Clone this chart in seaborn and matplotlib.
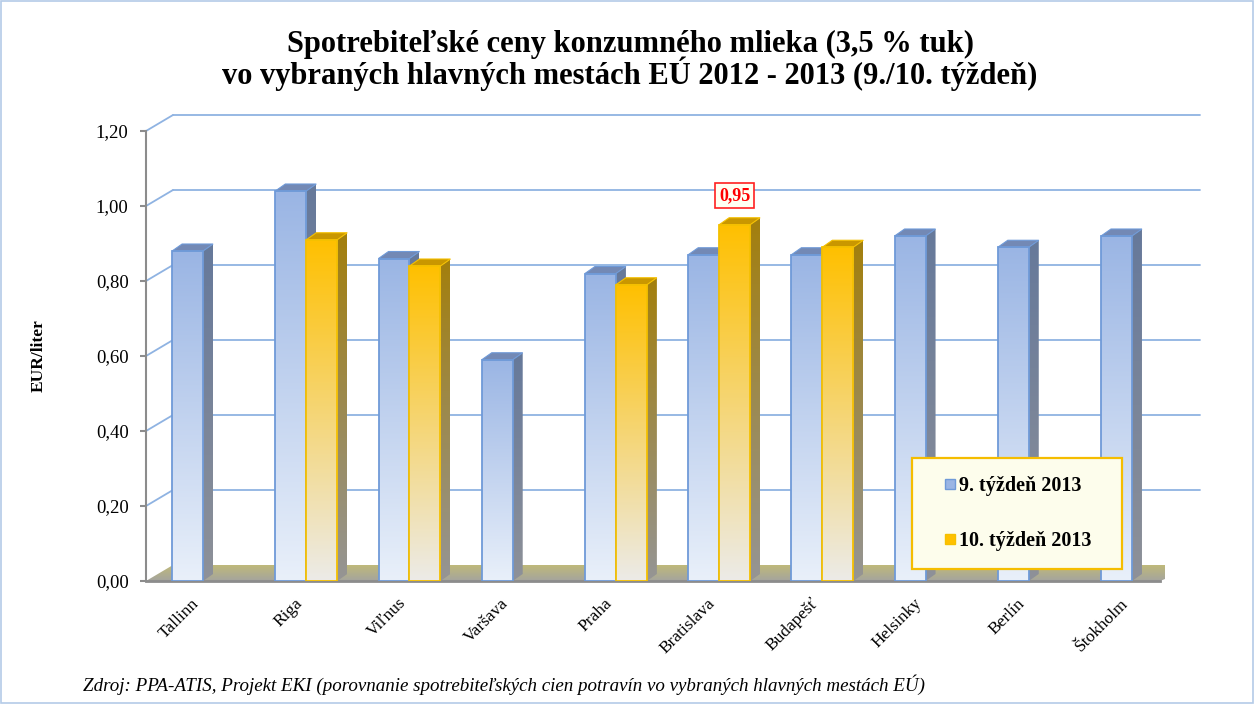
"""Spotrebiteľské ceny konzumného mlieka — pseudo-3D zoskupený stĺpcový graf."""
import matplotlib
matplotlib.use("Agg")
import matplotlib.pyplot as plt
import matplotlib.transforms as mtrans
import numpy as np
import pandas as pd
import seaborn as sns
from matplotlib.colors import LinearSegmentedColormap
from matplotlib.lines import Line2D
from matplotlib.patches import Polygon, Rectangle
from matplotlib.ticker import FuncFormatter

CITIES = ["Tallinn", "Riga", "Viľnus", "Varšava", "Praha", "Bratislava",
          "Budapešť", "Helsinky", "Berlín", "Štokholm"]
WEEKS = ["9. týždeň 2013", "10. týždeň 2013"]
WEEK9 = [0.88, 1.04, 0.86, 0.59, 0.82, 0.87, 0.87, 0.92, 0.89, 0.92]
WEEK10 = [None, 0.91, 0.84, None, 0.79, 0.95, 0.89, None, None, None]
HIGHLIGHT = ("Bratislava", WEEKS[1])
YTICKS = [0.0, 0.2, 0.4, 0.6, 0.8, 1.0, 1.2]

TITLE_1 = "Spotrebiteľské ceny konzumného mlieka (3,5 % tuk)"
TITLE_2 = "vo vybraných hlavných mestách EÚ 2012 - 2013 (9./10. týždeň)"
SOURCE = ("Zdroj: PPA-ATIS, Projekt EKI (porovnanie spotrebiteľských cien "
          "potravín vo vybraných hlavných mestách EÚ)")
YLABEL = "EUR/liter"

# colours: (front bottom, front top), (side bottom, side top), top face, edge
STYLE = {
    WEEKS[0]: dict(front=("#e9f0fa", "#9ab5e4"), side=("#8e9198", "#66799b"),
                   top="#7389b5", edge="#6f9ad8"),
    WEEKS[1]: dict(front=("#ecebe8", "#ffc000"), side=("#959595", "#a37f0c"),
                   top="#c99700", edge="#f5c000"),
}
GRID = "#8fb3e2"
AXIS = "#8c8c8c"
SERIF = ["Liberation Serif", "DejaVu Serif"]

W, H, DPI = 1256, 704, 100
XLIM = (-0.553, 9.32)
YLIM = (0.0, 1.2)
SIDE_PX, RISE_PX = 10, 7          # bar depth
BACK_PX, BACK_UP_PX = 27, 16      # back wall offset

sns.set_theme(style="white")
plt.rcParams["font.family"] = SERIF
plt.rcParams["text.color"] = "black"
plt.rcParams["axes.labelcolor"] = "black"

rows = []
for city, a, b in zip(CITIES, WEEK9, WEEK10):
    rows.append((city, WEEKS[0], a))
    if b is not None:
        rows.append((city, WEEKS[1], b))
df = pd.DataFrame(rows, columns=["mesto", "tyzden", "cena"])

fig = plt.figure(figsize=(W / DPI, H / DPI), dpi=DPI)
ax = fig.add_axes([146 / W, 1 - 581 / H, (1165 - 146) / W, 450 / H])
ax.set_facecolor("none")

sns.barplot(data=df, x="mesto", y="cena", hue="tyzden", order=CITIES,
            hue_order=WEEKS, width=0.6, errorbar=None, legend=False,
            palette=[STYLE[w]["front"][1] for w in WEEKS], ax=ax)
ax.set_xlim(*XLIM)
ax.set_ylim(*YLIM)

bb = ax.get_position()
pxx = bb.width * W / (XLIM[1] - XLIM[0])
pxy = bb.height * H / (YLIM[1] - YLIM[0])
def dx(p): return p / pxx
def dy(p): return p / pxy

grad = np.linspace(0, 1, 256).reshape(-1, 1)

def cmap(pair):
    return LinearSegmentedColormap.from_list("g", list(pair))

# floor
fx0, fx1 = XLIM[0], XLIM[0] + dx(1160 - 146)
floor = Polygon([(fx0, 0), (fx1, 0), (fx1 + dx(40), dy(BACK_UP_PX)),
                 (fx0 + dx(BACK_PX), dy(BACK_UP_PX))], closed=True,
                facecolor="none", edgecolor="none", zorder=1)
ax.add_patch(floor)
im = ax.imshow(grad, extent=[fx0, fx1 + dx(40), 0, dy(BACK_UP_PX)],
               origin="lower", aspect="auto", zorder=1,
               cmap=cmap(("#a4a49e", "#bfb97a")))
im.set_clip_path(floor)

# back-wall gridlines with perspective connectors
for v in YTICKS[1:]:
    yb = v + dy(BACK_UP_PX)
    ax.plot([XLIM[0] + dx(BACK_PX), XLIM[0] + dx(1200 - 146)], [yb, yb],
            color=GRID, lw=1.3, zorder=0.5, clip_on=False)
    ax.plot([XLIM[0], XLIM[0] + dx(BACK_PX)], [v, yb],
            color=GRID, lw=1.3, zorder=0.5, clip_on=False)

# pseudo-3D bars
for i, (week, cont) in enumerate(zip(WEEKS, ax.containers)):
    st = STYLE[week]
    z = 3 + i
    for bar in cont:
        x0, w, h = bar.get_x(), bar.get_width(), bar.get_height()
        x1 = x0 + w
        bar.set_facecolor("none")
        bar.set_edgecolor(st["edge"])
        bar.set_linewidth(1.3)
        bar.set_zorder(z + 0.2)
        front = ax.imshow(grad, extent=[x0, x1, 0, h], origin="lower",
                          aspect="auto", cmap=cmap(st["front"]), zorder=z)
        front.set_clip_path(bar)
        side = Polygon([(x1, 0), (x1, h), (x1 + dx(SIDE_PX), h + dy(RISE_PX)),
                        (x1 + dx(SIDE_PX), dy(RISE_PX))], closed=True,
                       facecolor="none", edgecolor="none", zorder=z)
        ax.add_patch(side)
        sim = ax.imshow(grad, extent=[x1, x1 + dx(SIDE_PX), 0, h + dy(RISE_PX)],
                        origin="lower", aspect="auto", cmap=cmap(st["side"]),
                        zorder=z)
        sim.set_clip_path(side)
        top = Polygon([(x0, h), (x1, h), (x1 + dx(SIDE_PX), h + dy(RISE_PX)),
                       (x0 + dx(SIDE_PX), h + dy(RISE_PX))], closed=True,
                      facecolor=st["top"], edgecolor=st["edge"], lw=0.8,
                      zorder=z + 0.1)
        ax.add_patch(top)

# highlighted value label
hv = df.loc[(df["mesto"] == HIGHLIGHT[0]) & (df["tyzden"] == HIGHLIGHT[1]),
            "cena"].iloc[0]
labels = [f"{v:.2f}".replace(".", ",") if np.isclose(v, hv) else ""
          for v in ax.containers[1].datavalues]
ax.bar_label(ax.containers[1], labels=labels, padding=15, color="#ff0000",
             fontsize=13, fontweight="bold", zorder=10,
             bbox=dict(boxstyle="square,pad=0.22", fc="#fffff2", ec="#ff2020",
                       lw=1.2))

ax.set_xlim(*XLIM)
ax.set_ylim(*YLIM)
ax.set_yticks(YTICKS)
ax.yaxis.set_major_formatter(FuncFormatter(lambda v, _: f"{v:.2f}".replace(".", ",")))
ax.tick_params(axis="y", left=True, length=4.5, width=1.5, color=AXIS,
               labelsize=13.5, pad=8, labelcolor="black")
ax.tick_params(axis="x", length=0, labelsize=12.5, pad=6, labelcolor="black")
shift = mtrans.ScaledTranslation(-12 / DPI, -6 / DPI, fig.dpi_scale_trans)
for lab in ax.get_xticklabels():
    lab.set_rotation(45)
    lab.set_ha("right")
    lab.set_va("top")
    lab.set_rotation_mode("anchor")
    lab.set_transform(lab.get_transform() + shift)
for s in ("top", "right"):
    ax.spines[s].set_visible(False)
ax.spines["left"].set_color(AXIS)
ax.spines["left"].set_linewidth(1.5)
ax.spines["bottom"].set_color(AXIS)
ax.spines["bottom"].set_linewidth(2)
ax.spines["bottom"].set_bounds(XLIM[0], fx1)
ax.set_xlabel("")
ax.set_ylabel(YLABEL, fontsize=12.5, fontweight="bold")
ax.yaxis.set_label_coords((47 - 146) / (bb.width * W), 0.5)

handles = [Line2D([], [], ls="", marker="s", markersize=7.5,
                  markerfacecolor=STYLE[w]["front"][1],
                  markeredgecolor=STYLE[w]["edge"], markeredgewidth=1.0)
           for w in WEEKS]
leg = ax.legend(handles, WEEKS, loc="upper left", mode="expand",
                bbox_to_anchor=(912 / W, 1 - 570 / H, 210 / W, 112 / H),
                bbox_transform=fig.transFigure, frameon=True, fancybox=False,
                edgecolor="#f5bd00", facecolor="#fdfdec", framealpha=1,
                prop=dict(weight="bold", size=14.5, family=SERIF),
                labelspacing=1.75, borderpad=0.9, handlelength=2.0,
                handletextpad=-0.55, borderaxespad=0)
leg.get_frame().set_linewidth(1.6)

# title as two baseline-placed lines
fig.text(630 / W, 1 - 52 / H, TITLE_1, ha="center", va="baseline",
         fontsize=22, fontweight="bold")
fig.text(630 / W, 1 - 84 / H, TITLE_2, ha="center", va="baseline",
         fontsize=22, fontweight="bold")
fig.text(83 / W, 1 - 685 / H, SOURCE, ha="left", va="center", fontsize=13.7,
         style="italic")
fig.add_artist(Rectangle((0.001, 0.001), 0.997, 0.997, transform=fig.transFigure,
                         fill=False, edgecolor="#b4cbe8", lw=1.2))

fig.savefig("out.png", dpi=DPI)
